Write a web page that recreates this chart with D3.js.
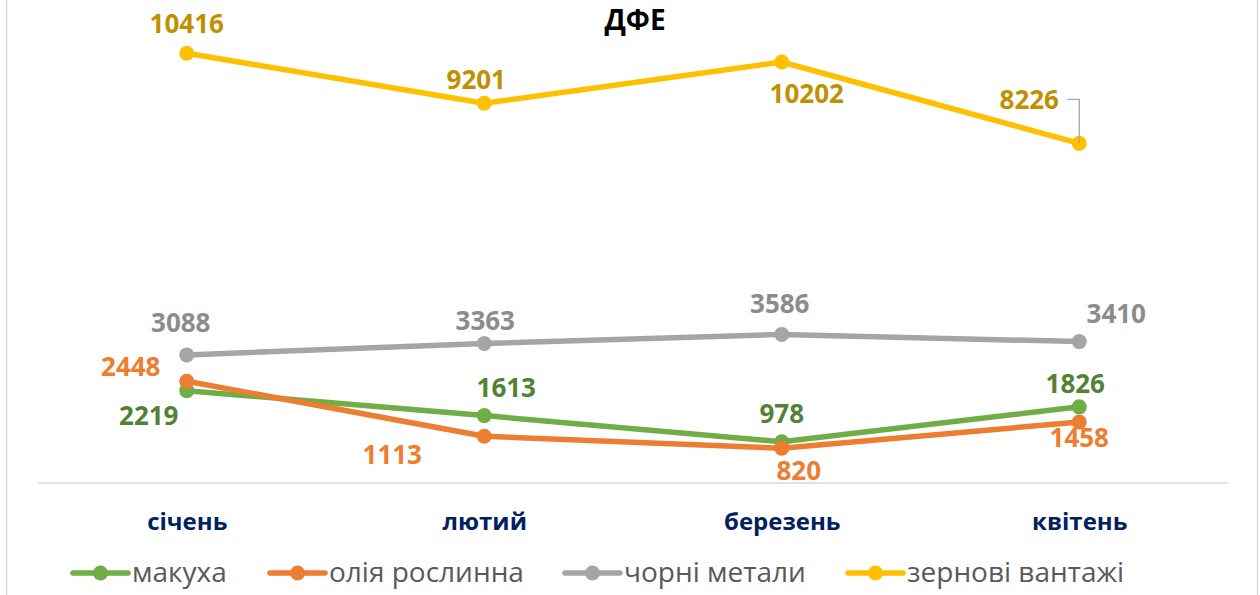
<!DOCTYPE html>
<html>
<head>
<meta charset="utf-8">
<script src="https://cdn.jsdelivr.net/npm/d3@7"></script>
<style>
	html, body { margin: 0; padding: 0; background: #fff; }
	svg { display: block; font-family: "Open Sans", "Noto Sans", sans-serif; }
</style>
</head>
<body>
<svg id="chart" width="1260" height="595"></svg>
<script>
	'use strict';

	var months = ['січень', 'лютий', 'березень', 'квітень'];
	var seriesNames = ['макуха', 'олія рослинна', 'чорні метали', 'зернові вантажі'];
	var makukha = [2219, 1613, 978, 1826];
	var oliya = [2448, 1113, 820, 1458];
	var metaly = [3088, 3363, 3586, 3410];
	var zerno = [10416, 9201, 10202, 8226];

	var lineColors = ['#70ad47', '#ed7d31', '#a5a5a5', '#ffc000'];
	var labelColors = ['#548235', '#ed7d31', '#8c8c8c', '#bf9000'];

	// label offsets from the point: [dx to text centre, dy to baseline]
	var labelOffsets = [
		[[-38, 34], [22, -19], [0, -19], [-4, -14]],
		[[-56, -5], [-92, 28], [17, 32], [0, 25]],
		[[-6, -23], [1, -14], [-2, -21], [37, -19]],
		[[0, -20], [-8, -14], [25, 41], [-50, -34]]
	];

	var allSeries = [makukha, oliya, metaly, zerno];

	var svg = d3.select('#chart');

	// frame edges
	svg.append('line').attr('x1', 6.5).attr('x2', 6.5).attr('y1', 0).attr('y2', 595)
		.attr('stroke', '#d9d9d9').attr('stroke-width', 1.5);
	svg.append('line').attr('x1', 1257.5).attr('x2', 1257.5).attr('y1', 0).attr('y2', 595)
		.attr('stroke', '#d9d9d9').attr('stroke-width', 1.5);

	var x = d3.scalePoint()
		.domain(months)
		.range([38, 1228])
		.padding(0.5);

	var y = d3.scaleLinear()
		.domain([0, 12000])
		.range([482, -12]);

	// title
	svg.append('text')
		.attr('x', 635).attr('y', 30)
		.attr('text-anchor', 'middle')
		.attr('font-size', 28).attr('font-weight', 700)
		.attr('fill', '#000')
		.text('ДФЕ');

	// category axis
	var xAxis = svg.append('g')
		.attr('transform', 'translate(0,483)')
		.call(d3.axisBottom(x).tickSize(0).tickPadding(0));
	xAxis.select('.domain').attr('d', 'M38,0H1228').attr('stroke', '#d9d9d9').attr('stroke-width', 1.5);
	xAxis.selectAll('.tick text')
		.attr('y', 47).attr('dy', 0)
		.attr('font-family', '"Open Sans", sans-serif')
		.attr('font-size', 24).attr('font-weight', 700)
		.attr('fill', '#002060');

	var line = d3.line()
		.x(function (d, i) { return x(months[i]); })
		.y(function (d) { return y(d); });

	allSeries.forEach(function (vals, s) {
		var g = svg.append('g');
		g.append('path')
			.datum(vals)
			.attr('fill', 'none')
			.attr('stroke', lineColors[s])
			.attr('stroke-width', 5.5)
			.attr('stroke-linejoin', 'round')
			.attr('stroke-linecap', 'round')
			.attr('d', line);
		g.selectAll('circle')
			.data(vals)
			.enter().append('circle')
			.attr('cx', function (d, i) { return x(months[i]); })
			.attr('cy', function (d) { return y(d); })
			.attr('r', 7.5)
			.attr('fill', lineColors[s]);
	});

	// leader line for the last grain label
	var lx = x(months[3]), ly = y(zerno[3]);
	svg.append('path')
		.attr('d', 'M' + (lx - 12) + ',' + (ly - 44) + 'H' + lx + 'V' + ly)
		.attr('fill', 'none')
		.attr('stroke', '#a6a6a6')
		.attr('stroke-width', 1.3);

	allSeries.forEach(function (vals, s) {
		svg.append('g').selectAll('text')
			.data(vals)
			.enter().append('text')
			.attr('x', function (d, i) { return x(months[i]) + labelOffsets[s][i][0]; })
			.attr('y', function (d, i) { return y(d) + labelOffsets[s][i][1]; })
			.attr('text-anchor', 'middle')
			.attr('font-size', 26).attr('font-weight', 700)
			.attr('fill', labelColors[s])
			.text(function (d) { return d; });
	});

	// legend
	var legendX = [73, 270, 565, 848];
	var legend = svg.append('g').attr('transform', 'translate(0,573)');
	seriesNames.forEach(function (name, s) {
		var item = legend.append('g').attr('transform', 'translate(' + legendX[s] + ',0)');
		item.append('line').attr('x1', 0).attr('x2', 55).attr('y1', 0).attr('y2', 0)
			.attr('stroke', lineColors[s]).attr('stroke-width', 5.5).attr('stroke-linecap', 'round');
		item.append('circle').attr('cx', 27.5).attr('cy', 0).attr('r', 7.5).attr('fill', lineColors[s]);
		item.append('text').attr('x', 59).attr('y', 9)
			.attr('font-size', 28).attr('fill', '#595959')
			.text(name);
	});
</script>
</body>
</html>
